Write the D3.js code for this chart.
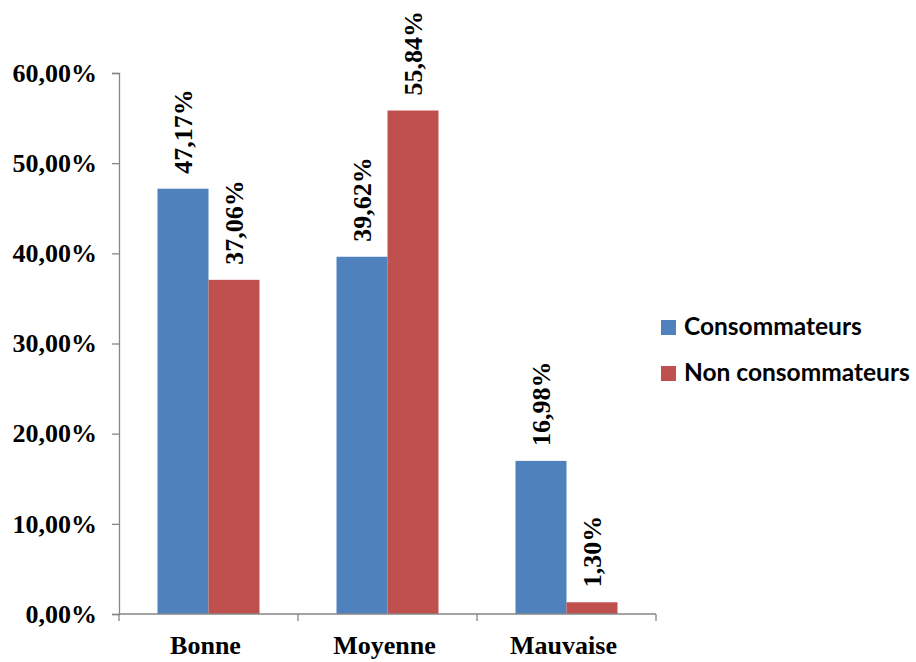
<!DOCTYPE html>
<html>
<head>
<meta charset="utf-8">
<script src="https://cdn.jsdelivr.net/npm/d3@7"></script>
<style>
  html, body { margin: 0; padding: 0; background: #fff; }
  svg { display: block; }
</style>
</head>
<body>
<svg id="chart" width="916" height="662"></svg>
<script>
// Qualité (catégories) et parts de chaque groupe
const categories = ["Bonne", "Moyenne", "Mauvaise"];
const seriesNames = ["Consommateurs", "Non consommateurs"];
const consommateurs = [47.17, 39.62, 16.98];
const nonConsommateurs = [37.06, 55.84, 1.30];
const yTicks = [0, 10, 20, 30, 40, 50, 60];
const colors = ["#4F81BD", "#C0504D"];

const seriesValues = [consommateurs, nonConsommateurs];
const rows = categories.map((c, i) => ({
  category: c,
  values: seriesNames.map((s, k) => ({ series: s, k, value: seriesValues[k][i] }))
}));

const frLocale = d3.formatLocale({ decimal: ",", thousands: " ", grouping: [3], currency: ["", " €"] });
const fmt = frLocale.format(".2f");
const pct = v => fmt(v) + "%";

const svg = d3.select("#chart");
const plotLeft = 119, plotRight = 656, plotTop = 73, plotBottom = 614;

const x = d3.scaleBand().domain(categories).range([plotLeft, plotRight]).padding(0);
const xs = d3.scaleBand().domain(seriesNames).range([0, x.bandwidth()]).paddingInner(0).paddingOuter(0.755);
const y = d3.scaleLinear().domain([0, 60]).range([plotBottom, plotTop]);

const serif = "'Liberation Serif', 'Times New Roman', serif";
const axisColor = "#868686";

// Axe vertical
const yAxis = svg.append("g")
  .attr("transform", `translate(${plotLeft},0)`)
  .call(d3.axisLeft(y).tickValues(yTicks).tickSize(7).tickPadding(15).tickFormat(pct));
yAxis.select(".domain").attr("stroke", axisColor).attr("stroke-width", 1.3);
yAxis.selectAll(".tick line").attr("stroke", axisColor).attr("stroke-width", 1.3);
yAxis.selectAll(".tick text")
  .attr("fill", "#000")
  .style("font-family", serif)
  .style("font-weight", "bold")
  .style("font-size", "26px");

// Barres
const groups = svg.append("g").selectAll("g")
  .data(rows)
  .join("g")
  .attr("transform", d => `translate(${x(d.category)},0)`);

groups.selectAll("rect")
  .data(d => d.values)
  .join("rect")
  .attr("x", d => xs(d.series))
  .attr("width", xs.bandwidth())
  .attr("y", d => y(d.value))
  .attr("height", d => y(0) - y(d.value))
  .attr("fill", d => colors[d.k]);

// Étiquettes de valeur, verticales
groups.selectAll("text.val")
  .data(d => d.values)
  .join("text")
  .attr("class", "val")
  .attr("transform", d => `translate(${xs(d.series) + xs.bandwidth() / 2},${y(d.value) - 15}) rotate(-90)`)
  .attr("dy", "0.35em")
  .attr("text-anchor", "start")
  .style("font-family", serif)
  .style("font-weight", "bold")
  .style("font-size", "26px")
  .text(d => pct(d.value));

// Axe horizontal
const xAxisG = svg.append("g").attr("transform", `translate(0,${plotBottom})`);
xAxisG.append("line")
  .attr("x1", plotLeft).attr("x2", plotRight).attr("y1", 0).attr("y2", 0)
  .attr("stroke", axisColor).attr("stroke-width", 1.3);
const boundaries = categories.map(c => x(c)).concat([x(categories[categories.length - 1]) + x.bandwidth()]);
xAxisG.selectAll("line.tick")
  .data(boundaries)
  .join("line")
  .attr("class", "tick")
  .attr("x1", d => d).attr("x2", d => d)
  .attr("y1", 0).attr("y2", 7)
  .attr("stroke", axisColor).attr("stroke-width", 1.3);
xAxisG.selectAll("text.cat")
  .data(categories)
  .join("text")
  .attr("class", "cat")
  .attr("x", d => x(d) + x.bandwidth() / 2 - 3)
  .attr("y", 40)
  .attr("text-anchor", "middle")
  .style("font-family", serif)
  .style("font-weight", "bold")
  .style("font-size", "26px")
  .text(d => d);

// Légende
const legend = svg.append("g").attr("transform", "translate(661,320)");
const items = legend.selectAll("g")
  .data(seriesNames)
  .join("g")
  .attr("transform", (d, i) => `translate(0,${i * 46})`);
items.append("rect")
  .attr("width", 15).attr("height", 15)
  .attr("fill", (d, i) => colors[i]);
items.append("text")
  .attr("x", 23)
  .attr("y", 15)
  .style("font-family", "Lato, 'Open Sans', sans-serif")
  .style("font-weight", "bold")
  .style("font-size", "24.5px")
  .attr("fill", "#000")
  .text(d => d);
</script>
</body>
</html>
